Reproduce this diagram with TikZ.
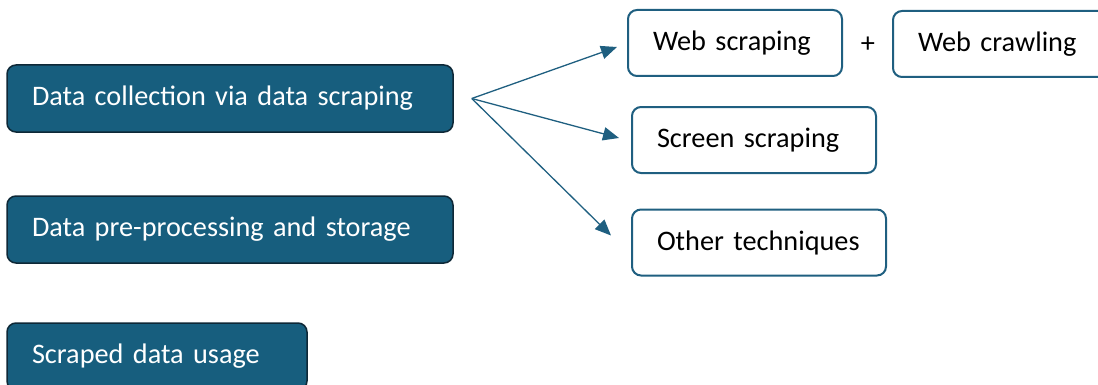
\documentclass[tikz,border=0pt]{standalone}
\usepackage{fontspec}
\setmainfont{Carlito}
\usepackage{tikz}
\usetikzlibrary{arrows.meta, positioning, calc}
\definecolor{stagefill}{RGB}{23,94,126}
\definecolor{stageline}{RGB}{14,40,55}
\definecolor{techline}{RGB}{31,95,128}
\newcommand{\pxu}{0.75pt}
\tikzset{
  stage/.style={draw=stageline, fill=stagefill, line width=1.5*\pxu, rounded corners=9*\pxu,
    text=white, align=left, inner xsep=25*\pxu, inner ysep=0pt, minimum height=67*\pxu,
    font=\fontsize{21.2}{24}\selectfont},
  tech/.style={draw=techline, fill=white, line width=2*\pxu, rounded corners=9*\pxu,
    text=black, align=left, inner xsep=25*\pxu, inner ysep=0pt, minimum height=66*\pxu,
    font=\fontsize{21.2}{24}\selectfont},
  arr/.style={techline, line width=1.3*\pxu, -{Triangle[length=12pt, width=10pt]}}
}

\begin{document}
\begin{tikzpicture}[x=\pxu, y=-\pxu]
  \useasboundingbox (0,0) rectangle (1098,385);
  % stages
  \node[stage, text width=396*\pxu] (collect) at (230,98.5) {Data collection via data scraping};
  \node[stage, text width=396*\pxu] (prep) at (230,229.5) {Data pre-processing and storage};
  \node[stage, text width=250*\pxu] (usage) at (157,356.5) {Scraped data usage};
  % techniques
  \node[tech, text width=164*\pxu] (webscrap) at (735,43) {Web scraping};
  \node[tech, text width=170*\pxu] (webcrawl) at (1003,44) {Web crawling};
  \node[font=\fontsize{21.2}{24}\selectfont] (plus) at (868,45) {+};
  \node[tech, text width=194*\pxu] (screen) at (754,140) {Screen scraping};
  \node[tech, text width=204*\pxu] (other) at (759,242.5) {Other techniques};
  % arrows
  \coordinate (fork) at ($(collect.east)+(18,0)$);
  \draw[arr] (fork) -- ($(webscrap.west)+(-10,4)$);
  \draw[arr] (fork) -- ($(screen.west)+(-12,-2)$);
  \draw[arr] (fork) -- ($(other.west)+(-20,-7)$);
\end{tikzpicture}
\end{document}
